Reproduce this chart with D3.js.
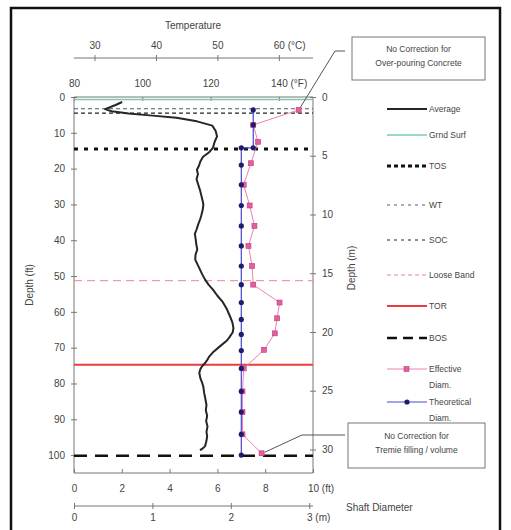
<!DOCTYPE html>
<html>
<head>
<meta charset="utf-8">
<script src="https://cdn.jsdelivr.net/npm/d3@7"></script>
<style>
  body { margin: 0; background: #fff; }
  svg { font-family: "Liberation Sans", Arial, sans-serif; }
  .axis path, .axis line { stroke: #777; }
  .axis text { fill: #444; font-size: 10px; }
</style>
</head>
<body>
<div class="canvas"></div>
<script>
// ---- data ----
const depthTicksFt = [0, 10, 20, 30, 40, 50, 60, 70, 80, 90, 100];
const depthTicksM = [0, 5, 10, 15, 20, 25, 30];
const tempTicksF = [80, 100, 120, 140];
const tempTicksC = [30, 40, 50, 60];
const diamTicksFt = [0, 2, 4, 6, 8, 10];
const diamTicksM = [0, 1, 2, 3];

// average temperature profile (depth ft, temp °F)
const avgDepth = [1.4, 2.3, 3.4, 4.0, 4.6, 5.2, 5.8, 6.8, 8.0, 9.5, 11.0, 12.5, 14.2, 15.5, 16.7, 18.0,
  19.2, 20.3, 21.5, 23.0, 24.5, 26.0, 27.5, 28.7, 30.0, 31.5, 33.0, 34.0, 35.5, 37.0, 38.2, 39.5,
  41.0, 42.6, 44.0, 45.4, 46.8, 48.2, 49.6, 51.0, 52.4, 53.8, 55.5, 57.3, 59.3, 61.5, 63.0, 64.5,
  65.7, 67.0, 68.0, 69.5, 71.3, 72.5, 73.5, 74.5, 75.2, 76.0, 77.0, 78.5, 79.7, 81.0, 82.5, 84.4,
  86.0, 87.5, 89.0, 90.5, 92.0, 93.5, 94.7, 96.0, 97.5, 98.3, 98.6];
const avgTempF = [94.1, 92.0, 89.1, 91.0, 96.0, 103.0, 110.0, 116.0, 120.5, 121.5, 121.9, 121.2, 120.7, 119.5, 117.8, 117.0,
  116.6, 116.0, 116.3, 115.9, 116.4, 116.9, 117.3, 117.6, 117.9, 117.7, 117.3, 117.0, 116.4, 115.9, 115.4, 115.6,
  115.8, 116.1, 115.6, 115.5, 116.2, 116.9, 117.6, 118.4, 119.4, 120.7, 122.0, 123.6, 124.8, 125.8, 126.4, 126.7,
  126.5, 125.6, 124.8, 122.9, 120.7, 119.6, 119.0, 118.2, 117.5, 117.0, 116.7, 117.0, 117.5, 117.9, 118.1, 118.5,
  118.8, 118.6, 119.0, 118.7, 119.1, 118.8, 119.0, 118.8, 118.4, 117.5, 116.9];

// effective diameter (depth ft, diameter ft)
const effDepth = [3.6, 7.8, 12.5, 18.5, 24.5, 30.3, 36.0, 41.6, 47.2, 52.4, 57.4, 61.8, 66.0, 70.6, 75.8, 82.2, 88.0, 94.2, 99.5];
const effDiam = [9.4, 7.5, 7.7, 7.4, 7.1, 7.35, 7.55, 7.3, 7.45, 7.5, 8.6, 8.5, 8.4, 7.95, 7.1, 7.05, 7.05, 7.05, 7.85];

// theoretical diameter
const theoDepth = [3.6, 7.8, 14.2, 14.2, 19.0, 24.5, 30.3, 36.0, 41.6, 47.2, 52.4, 57.4, 62.1, 66.3, 70.8, 75.8, 82.2, 88.0, 94.2, 100.0];
const theoDiam = [7.5, 7.5, 7.5, 7.0, 7.0, 7.0, 7.0, 7.0, 7.0, 7.0, 7.0, 7.0, 7.0, 7.0, 7.0, 7.0, 7.0, 7.0, 7.0, 7.0];

// horizontal reference levels (depth ft)
const refNames = ["Grnd Surf", "WT", "SOC", "TOS", "Loose Band", "TOR", "BOS"];
const refDepths = [0.7, 3.3, 4.5, 14.5, 51.3, 74.8, 100.2];

const legendNames = ["Average", "Grnd Surf", "TOS", "WT", "SOC", "Loose Band", "TOR", "BOS", "Effective Diam.", "Theoretical Diam."];

// ---- styles ----
const styles = {
  "Average": { stroke: "#262626", width: 2, dash: null },
  "Grnd Surf": { stroke: "#7ccbb0", width: 1.5, dash: null },
  "TOS": { stroke: "#111", width: 3, dash: "4,6", legendDash: "4,3" },
  "WT": { stroke: "#4f5d78", width: 1.1, dash: "4,3", legendDash: "3,4" },
  "SOC": { stroke: "#222", width: 1.1, dash: "4,3", legendDash: "3,4" },
  "Loose Band": { stroke: "#f07f9a", width: 1, dash: "8,5", legendDash: "4,3" },
  "TOR": { stroke: "#ee3b3b", width: 2, dash: null },
  "BOS": { stroke: "#111", width: 2.5, dash: "13,8", legendDash: "10,6" },
  "Effective Diam.": { stroke: "#f07fb0", width: 1, dash: null },
  "Theoretical Diam.": { stroke: "#4848d0", width: 1, dash: null }
};
const legendY = [109, 135, 166, 205, 240, 275, 306, 338, 369, 402];

const W = 511, H = 530;
const plot = { left: 74, right: 313, top: 97, bottom: 473 };

const svg = d3.select(".canvas").append("svg").attr("width", W).attr("height", H);

// outer frame
svg.append("rect")
  .attr("x", 11).attr("y", 8).attr("width", 489).attr("height", 540)
  .attr("fill", "none").attr("stroke", "#111").attr("stroke-width", 2.5);

// scales
const y = d3.scaleLinear().domain([0, 105]).range([plot.top, plot.bottom]);
const yM = d3.scaleLinear().domain([0, 105 * 0.3048]).range([plot.top, plot.bottom]);
const xT = d3.scaleLinear().domain([80, 150]).range([plot.left, plot.right]);
const xD = d3.scaleLinear().domain([0, 10]).range([plot.left, plot.right]);
const xDm = d3.scaleLinear().domain([0, 10 * 0.3048]).range([plot.left, plot.right]);
const xC = d3.scaleLinear().domain([(80 - 32) * 5 / 9, (150 - 32) * 5 / 9]).range([plot.left, plot.right]);
const fmt = d3.format("d");

// helper: add unit to last tick label, keeping number centered
function addUnit(g, unit) {
  const last = g.selectAll(".tick").filter((d, i, n) => i === n.length - 1).select("text");
  const w = last.node().getComputedTextLength();
  last.append("tspan").text(unit);
  last.attr("text-anchor", "start").attr("dx", -w / 2);
}

// left depth axis (ft)
svg.append("g").attr("class", "axis")
  .attr("transform", `translate(${plot.left},0)`)
  .call(d3.axisLeft(y).tickValues(depthTicksFt).tickFormat(fmt).tickSize(3).tickPadding(6))
  .call((g) => g.select(".domain").attr("d", `M0,${plot.top}V${plot.bottom}`))
  .call((g) => g.selectAll(".tick line").attr("x2", -3).attr("x1", 3));

// right depth axis (m)
svg.append("g").attr("class", "axis")
  .attr("transform", `translate(${plot.right},0)`)
  .call(d3.axisRight(yM).tickValues(depthTicksM).tickFormat(fmt).tickSize(3).tickPadding(6))
  .call((g) => g.select(".domain").attr("d", `M0,${plot.top}V${plot.bottom}`))
  .call((g) => g.selectAll(".tick line").attr("x1", -3));

// top temperature axis (°F) on plot top
const gF = svg.append("g").attr("class", "axis")
  .attr("transform", `translate(0,${plot.top})`)
  .call(d3.axisTop(xT).tickValues(tempTicksF).tickFormat(fmt).tickSize(-4).tickPadding(10))
  .call((g) => g.select(".domain").attr("d", `M${plot.left},0H${plot.right}`));
addUnit(gF, " (°F)");

// °C axis above
const gC = svg.append("g").attr("class", "axis")
  .attr("transform", "translate(0,58)")
  .call(d3.axisTop(xC).tickValues(tempTicksC).tickFormat(fmt).tickSize(3).tickPadding(6))
  .call((g) => g.select(".domain").attr("d", `M${plot.left},0H${plot.right}`))
  .call((g) => g.selectAll(".tick line").attr("y1", 3));
addUnit(gC, " (°C)");

// bottom diameter axis (ft)
const gDf = svg.append("g").attr("class", "axis")
  .attr("transform", `translate(0,${plot.bottom})`)
  .call(d3.axisBottom(xD).tickValues(diamTicksFt).tickFormat(fmt).tickSize(-4).tickPadding(12))
  .call((g) => g.select(".domain").attr("d", `M${plot.left},0H${plot.right}`));
addUnit(gDf, " (ft)");

// diameter axis (m)
const gDm = svg.append("g").attr("class", "axis")
  .attr("transform", "translate(0,506)")
  .call(d3.axisBottom(xDm).tickValues(diamTicksM).tickFormat(fmt).tickSize(3).tickPadding(5))
  .call((g) => g.select(".domain").attr("d", `M${plot.left},0H${plot.right}`))
  .call((g) => g.selectAll(".tick line").attr("y1", -3));
addUnit(gDm, " (m)");

// axis titles
const txt = (x, yy, s, opts = {}) => svg.append("text")
  .attr("x", x).attr("y", yy).text(s)
  .attr("font-size", opts.size || 10).attr("fill", "#444")
  .attr("text-anchor", opts.anchor || "middle")
  .attr("transform", opts.rotate ? `rotate(-90,${x},${yy})` : null);

txt(193, 29, "Temperature");
txt(33, 285, "Depth (ft)", { rotate: true });
txt(355, 268, "Depth (m)", { rotate: true });
txt(346, 511, "Shaft Diameter", { anchor: "start" });

// plot contents
const graph = svg.append("g");

// reference lines
refNames.forEach((name, i) => {
  const s = styles[name];
  graph.append("line")
    .attr("x1", plot.left).attr("x2", plot.right)
    .attr("y1", y(refDepths[i])).attr("y2", y(refDepths[i]))
    .attr("stroke", s.stroke).attr("stroke-width", s.width)
    .attr("stroke-dasharray", s.dash);
});

// average temperature
const avgLine = d3.line().x((d) => xT(d[1])).y((d) => y(d[0]));
graph.append("path")
  .datum(d3.zip(avgDepth, avgTempF))
  .attr("d", avgLine)
  .attr("fill", "none")
  .attr("stroke", styles["Average"].stroke)
  .attr("stroke-width", styles["Average"].width)
  .attr("stroke-linejoin", "round");

// diameters
const diamLine = d3.line().x((d) => xD(d[1])).y((d) => y(d[0]));
const effData = d3.zip(effDepth, effDiam);
const theoData = d3.zip(theoDepth, theoDiam);

graph.append("path").datum(effData).attr("d", diamLine)
  .attr("fill", "none").attr("stroke", styles["Effective Diam."].stroke).attr("stroke-width", 1);
graph.append("path").datum(theoData).attr("d", diamLine)
  .attr("fill", "none").attr("stroke", styles["Theoretical Diam."].stroke).attr("stroke-width", 1.2);

graph.selectAll(".eff").data(effData).enter().append("rect")
  .attr("class", "eff")
  .attr("x", (d) => xD(d[1]) - 2.5).attr("y", (d) => y(d[0]) - 2.5)
  .attr("width", 5).attr("height", 5)
  .attr("fill", "#e0609c").attr("stroke", "#c23a7e").attr("stroke-width", 0.6);

graph.selectAll(".theo").data(theoData).enter().append("circle")
  .attr("class", "theo")
  .attr("cx", (d) => xD(d[1])).attr("cy", (d) => y(d[0]))
  .attr("r", 2.6).attr("fill", "#1d1d6b");

// annotation boxes with leader lines
function note(x, yy, w, h, lines, lead) {
  svg.append("rect").attr("x", x).attr("y", yy).attr("width", w).attr("height", h)
    .attr("fill", "#fff").attr("stroke", "#777").attr("stroke-width", 1);
  lines.forEach((s, i) => txt(x + w / 2, yy + h / 2 - 3 + i * 14 - (lines.length - 1) * 4, s, { size: 8.5 }));
  svg.append("path").attr("d", d3.line()(lead))
    .attr("fill", "none").attr("stroke", "#555").attr("stroke-width", 1);
}
const effTop = effData[0], effBot = effData[effData.length - 1];
note(352, 37, 133, 43, ["No Correction for", "Over-pouring Concrete"],
  [[345, 51], [335, 51], [xD(effTop[1]) + 2, y(effTop[0]) - 3]]);
note(348, 423, 137, 45, ["No Correction for", "Tremie filling / volume"],
  [[345, 435], [302, 435], [xD(effBot[1]) + 3, y(effBot[0]) - 1]]);

// legend
const legend = svg.append("g");
legendNames.forEach((name, i) => {
  const s = styles[name];
  const ly = legendY[i];
  legend.append("line")
    .attr("x1", 387).attr("x2", 427).attr("y1", ly).attr("y2", ly)
    .attr("stroke", s.stroke).attr("stroke-width", s.width)
    .attr("stroke-dasharray", s.legendDash || s.dash);
  const words = name.split(" ");
  const t = legend.append("text").attr("x", 429).attr("y", ly + 3)
    .attr("font-size", 8.5).attr("fill", "#444");
  if (name.endsWith("Diam.")) {
    t.append("tspan").text(words[0]);
    t.append("tspan").attr("x", 429).attr("dy", 16).text(words[1]);
  } else {
    t.text(name);
  }
});
legend.append("rect").attr("x", 404).attr("y", legendY[8] - 2.5).attr("width", 5).attr("height", 5)
  .attr("fill", "#e0609c").attr("stroke", "#c23a7e").attr("stroke-width", 0.6);
legend.append("circle").attr("cx", 407).attr("cy", legendY[9]).attr("r", 2.6).attr("fill", "#1d1d6b");
</script>
</body>
</html>
